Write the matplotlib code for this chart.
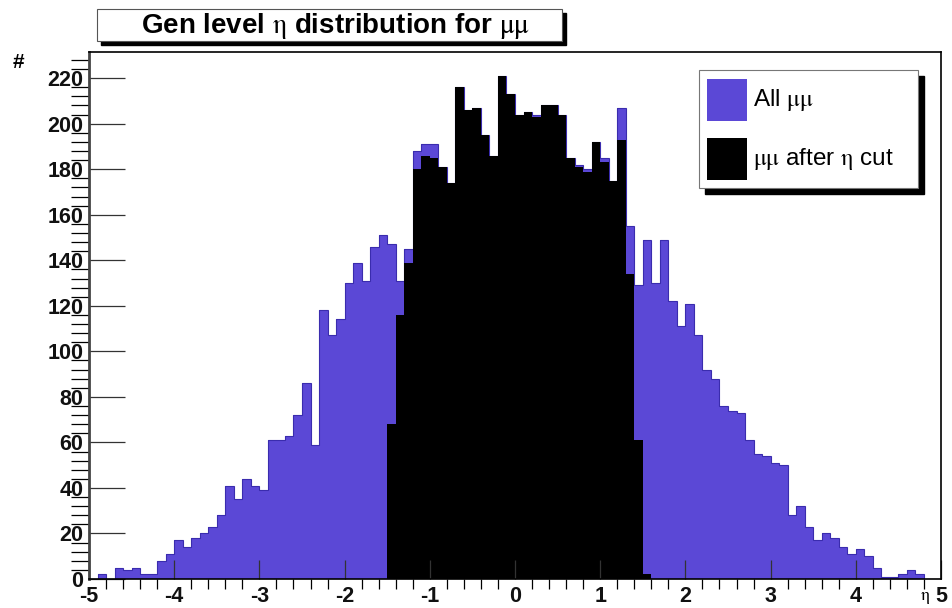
import numpy as np
import matplotlib
matplotlib.use("Agg")
import matplotlib.pyplot as plt
from matplotlib.patches import Rectangle
from matplotlib.ticker import MultipleLocator

# ---- data (100 bins of width 0.1 from -5 to 5) ----
bin_edges = np.linspace(-5, 5, 101)
all_mumu = [0, 2, 0, 5, 4, 5, 2, 2, 8, 11,
            17, 14, 18, 20, 23, 28, 41, 35, 44, 41,
            39, 61, 61, 63, 72, 86, 59, 118, 107, 114,
            130, 139, 131, 146, 151, 147, 131, 145, 188, 191,
            191, 181, 174, 216, 206, 207, 195, 186, 221, 213,
            204, 205, 204, 208, 208, 204, 185, 182, 180, 192,
            185, 175, 207, 155, 129, 149, 130, 149, 122, 111,
            121, 107, 92, 88, 76, 74, 73, 61, 55, 54,
            51, 50, 28, 32, 23, 17, 20, 18, 14, 11,
            13, 10, 5, 1, 1, 2, 4, 2, 0, 0]
cut_mumu = [0] * 35 + [68, 116, 139, 180, 186,
                       185, 181, 174, 216, 206, 207, 195, 186, 221, 213,
                       204, 205, 203, 208, 208, 204, 185, 181, 179, 192,
                       183, 175, 193, 134, 61, 2] + [0] * 34

title = r"Gen level $\eta$ distribution for $\mu\mu$"
legend_labels = [r"All $\mu\mu$", r"$\mu\mu$ after $\eta$ cut"]
purple = "#5B48D6"

plt.rcParams["font.family"] = ["Liberation Sans", "DejaVu Sans"]
plt.rcParams["mathtext.fontset"] = "stix"
plt.rcParams["mathtext.default"] = "rm"

W, H = 952, 608
fig = plt.figure(figsize=(W / 100, H / 100), dpi=100)
fig.patch.set_facecolor("white")

def fx(p):
    return p / W

def fy(p):
    return 1 - p / H

ax_l, ax_r, ax_t, ax_b = 89, 941, 52, 579
ax = fig.add_axes([fx(ax_l), fy(ax_b), fx(ax_r - ax_l), (ax_b - ax_t) / H])

ax.stairs(all_mumu, bin_edges, fill=True, color=purple, linewidth=0)
ax.stairs(all_mumu, bin_edges, fill=False, color="#3a2cae", linewidth=0.8)
ax.stairs(cut_mumu, bin_edges, fill=True, color="black", linewidth=0)

ax.set_xlim(-5, 5)
ax.set_ylim(0, 231.5)

ax.xaxis.set_major_locator(MultipleLocator(1))
ax.xaxis.set_minor_locator(MultipleLocator(0.2))
ax.yaxis.set_major_locator(MultipleLocator(20))
ax.yaxis.set_minor_locator(MultipleLocator(4))
ax.tick_params(axis="both", direction="in", colors="#333333", labelcolor="#111111",
               labelsize=15.5)
ax.tick_params(axis="y", which="major", length=26, width=0.9, pad=4)
ax.tick_params(axis="y", which="minor", length=13, width=0.9)
ax.tick_params(axis="x", which="major", length=14, width=0.9, pad=5)
ax.tick_params(axis="x", which="minor", length=7, width=0.9)
ax.set_xticks(np.arange(-5, 6, 1))
ax.set_xticklabels([str(v) for v in range(-5, 6)], fontweight="bold")
ax.set_yticks(np.arange(0, 221, 20))
ax.set_yticklabels([str(v) for v in range(0, 221, 20)], fontweight="bold")

for s in ax.spines.values():
    s.set_linewidth(1.2)
    s.set_color("black")
ax.spines["left"].set_color("#444444")
ax.spines["left"].set_linewidth(2)

# axis titles
fig.text(fx(18), fy(62), "#", fontsize=15, fontweight="bold", ha="center", va="center")
fig.text(fx(925), fy(606), r"$\eta$", fontsize=13, ha="center", va="bottom")

# title box with shadow
tb_l, tb_r, tb_t, tb_b = 97, 562, 9, 41
sh = 4
fig.patches.append(Rectangle((fx(tb_l + sh), fy(tb_b + sh)), fx(tb_r - tb_l), (tb_b - tb_t) / H,
                             transform=fig.transFigure, facecolor="black", edgecolor="black"))
fig.patches.append(Rectangle((fx(tb_l), fy(tb_b)), fx(tb_r - tb_l), (tb_b - tb_t) / H,
                             transform=fig.transFigure, facecolor="white", edgecolor="#555555",
                             linewidth=0.8))
fig.text(fx(336), fy((tb_t + tb_b) / 2 + 1), title, fontsize=20,
         fontweight="bold", ha="center", va="center")

# legend box with shadow
lg_l, lg_r, lg_t, lg_b = 699, 918, 70, 188
sh = 6
fig.patches.append(Rectangle((fx(lg_l + sh), fy(lg_b + sh)), fx(lg_r - lg_l), (lg_b - lg_t) / H,
                             transform=fig.transFigure, facecolor="black", edgecolor="black"))
fig.patches.append(Rectangle((fx(lg_l), fy(lg_b)), fx(lg_r - lg_l), (lg_b - lg_t) / H,
                             transform=fig.transFigure, facecolor="white", edgecolor="#777777",
                             linewidth=0.8))
sw_colors = [purple, "black"]
sw_y = [(79, 121), (138, 180)]
for (t, b), c, lab in zip(sw_y, sw_colors, legend_labels):
    fig.patches.append(Rectangle((fx(707), fy(b)), fx(40), (b - t) / H,
                                 transform=fig.transFigure, facecolor=c, edgecolor="none"))
    fig.text(fx(753), fy((t + b) / 2), lab, fontsize=17.5, ha="left", va="center")

fig.savefig("out.png", dpi=100)
